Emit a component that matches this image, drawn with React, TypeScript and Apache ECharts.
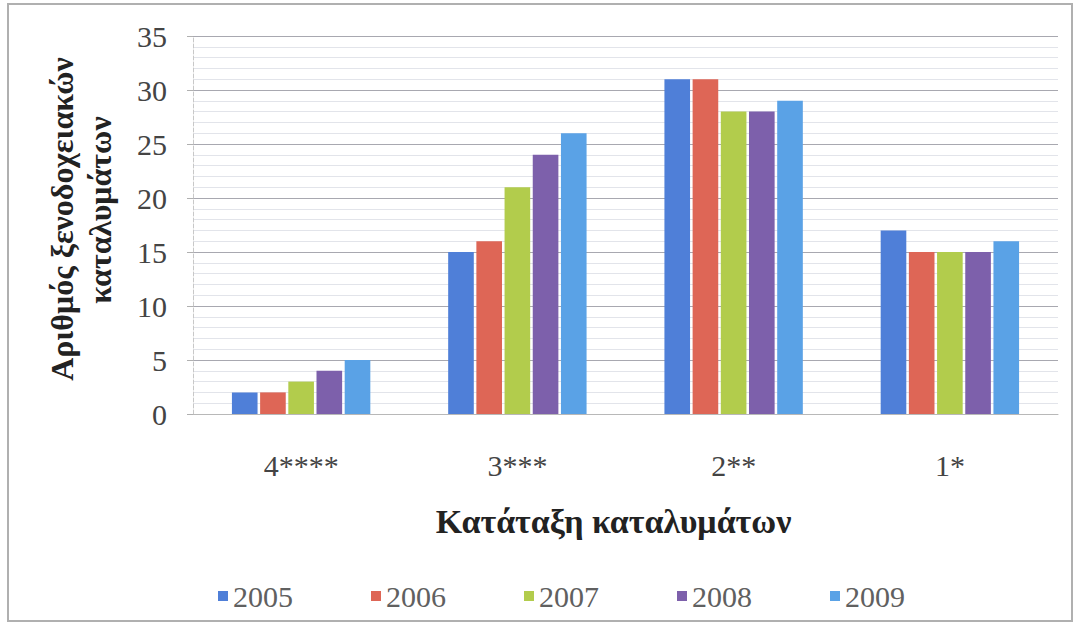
import React, { useEffect, useRef } from "react";
import * as echarts from "echarts";

const categories = ["4****", "3***", "2**", "1*"];
const years = ["2005", "2006", "2007", "2008", "2009"];
const values2005 = [2, 15, 31, 17];
const values2006 = [2, 16, 31, 15];
const values2007 = [3, 21, 28, 15];
const values2008 = [4, 24, 28, 15];
const values2009 = [5, 26, 29, 16];
const seriesValues = [values2005, values2006, values2007, values2008, values2009];
const colors = ["#4f7fd8", "#de6656", "#b2cc4c", "#7d60ab", "#5aa2e6"];
const yTicks = { min: 0, max: 35, interval: 5 };

const SERIF = "Liberation Serif";

export default function App() {
  const ref = useRef<HTMLDivElement>(null);
  useEffect(() => {
    if (!ref.current) return;
    const chart = echarts.init(ref.current, null, { renderer: "svg" });
    chart.setOption({
      animation: false,
      backgroundColor: "#ffffff",
      grid: { left: 193, right: 18, top: 36, bottom: 211 },
      legend: {
        left: 213,
        top: 576,
        itemWidth: 10,
        itemHeight: 10,
        itemGap: 78,
        icon: "rect",
        textStyle: { fontFamily: SERIF, fontSize: 30, color: "#606060" },
        data: years,
      },
      xAxis: {
        type: "category",
        data: categories,
        axisLine: { show: true, lineStyle: { color: "#b8b8b8", width: 1 } },
        axisTick: { show: false },
        axisLabel: { fontFamily: SERIF, fontSize: 30, color: "#444444", margin: 36 },
        name: "Κατάταξη καταλυμάτων",
        nameLocation: "middle",
        nameGap: 90,
        nameTextStyle: { fontFamily: SERIF, fontSize: 34, fontWeight: "bold", color: "#222222", padding: [0, 24, 0, 0] },
      },
      yAxis: {
        type: "value",
        min: yTicks.min,
        max: yTicks.max,
        interval: yTicks.interval,
        axisLine: { show: true, lineStyle: { color: "#c8c8c8", type: "dashed", width: 1 } },
        axisTick: { show: true, length: 6, lineStyle: { color: "#b0b0b0" } },
        axisLabel: { fontFamily: SERIF, fontSize: 30, color: "#444444", margin: 26 },
        splitLine: { show: true, lineStyle: { color: "#a8a8b0", width: 1 } },
        minorTick: { show: false, splitNumber: 5 },
        minorSplitLine: { show: true, lineStyle: { color: "#e2e4ea", width: 1 } },
      },
      graphic: [
        {
          type: "rect",
          shape: { x: 8, y: 4, width: 1064, height: 617 },
          style: { fill: "none", stroke: "#b0b0b0", lineWidth: 2 },
          silent: true,
        },
        {
          type: "text",
          x: 62,
          y: 219,
          rotation: Math.PI / 2,
          style: {
            text: "Αριθμός ξενοδοχειακών",
            fontFamily: SERIF,
            fontSize: 32,
            fontWeight: "bold",
            fill: "#222222",
            align: "center",
            verticalAlign: "middle",
          },
        },
        {
          type: "text",
          x: 100,
          y: 210,
          rotation: Math.PI / 2,
          style: {
            text: "καταλυμάτων",
            fontFamily: SERIF,
            fontSize: 32,
            fontWeight: "bold",
            fill: "#222222",
            align: "center",
            verticalAlign: "middle",
          },
        },
      ],
      series: years.map((y, i) => ({
        name: y,
        type: "bar",
        data: seriesValues[i],
        itemStyle: { color: colors[i] },
        barGap: "10%",
        barCategoryGap: "36%",
      })),
    });
    return () => chart.dispose();
  }, []);
  return (
    <div
      ref={ref}
      style={{ position: "absolute", left: 0, top: 0, width: 1076, height: 625 }}
    />
  );
}
